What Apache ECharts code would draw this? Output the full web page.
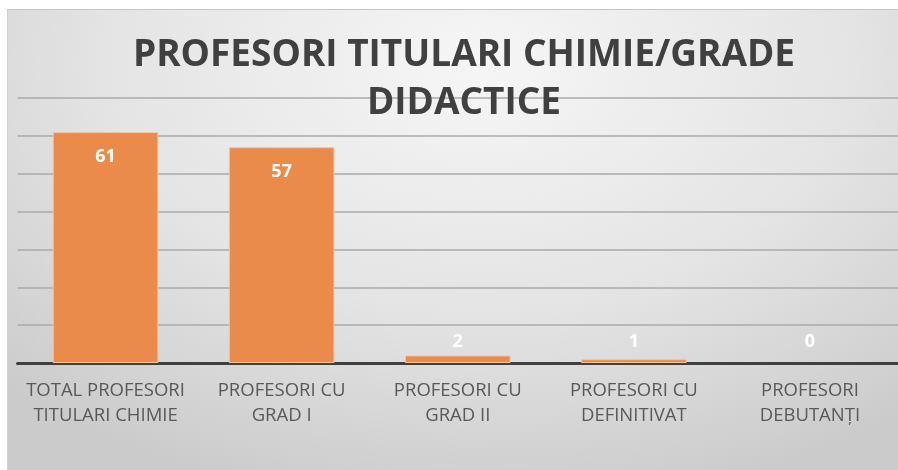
<!DOCTYPE html>
<html>
<head>
<meta charset="utf-8">
<script src="https://cdn.jsdelivr.net/npm/echarts@6/dist/echarts.min.js"></script>
<style>
html, body { margin: 0; padding: 0; background: #fff; }
#frame {
  position: absolute; left: 7px; top: 9px; width: 905px; height: 470px;
  border-top: 1px solid #c4c4c4; border-left: 1px solid #d0d0d0;
  background: radial-gradient(ellipse 75% 95% at 52% 12%, #f6f6f6 0%, #e4e4e4 55%, #cbcbcb 100%);
}
#main { position: absolute; left: 0; top: 0; width: 898px; height: 470px; }
</style>
</head>
<body>
<div id="frame"></div>
<div id="main"></div>
<script>
// categories and values
const categories = [
  'TOTAL PROFESORI\nTITULARI CHIMIE',
  'PROFESORI CU\nGRAD I',
  'PROFESORI CU\nGRAD II',
  'PROFESORI CU\nDEFINITIVAT',
  'PROFESORI\nDEBUTANȚI'
]
const values = [61, 57, 2, 1, 0]
const titleText = 'PROFESORI TITULARI CHIMIE/GRADE\nDIDACTICE'

let myChart = echarts.init(document.getElementById('main'), null, { renderer: 'canvas' })

// big bars get the label inside, small ones get it above the axis
let barData = values.map(v => {
  let item = { value: v }
  if (v > 10) {
    item.label = { position: 'insideTop', distance: 16 }
  } else {
    item.label = { position: 'insideBottom', distance: 12 }
  }
  if (v === 0) {
    item.itemStyle = { borderWidth: 0 }
  }
  return item
})

let option = {
  backgroundColor: 'transparent',
  title: {
    text: titleText,
    left: 459,
    textAlign: 'center',
    top: 26,
    textStyle: {
      fontFamily: 'Open Sans',
      fontWeight: 'bold',
      fontSize: 37,
      lineHeight: 48,
      color: '#404040'
    }
  },
  grid: {
    left: 17.5,
    right: -14,
    top: 98,
    bottom: 107
  },
  xAxis: {
    type: 'category',
    data: categories,
    axisTick: { show: false },
    axisLine: { lineStyle: { color: '#404040', width: 3 } },
    axisLabel: {
      fontFamily: 'Open Sans',
      fontSize: 18.5,
      lineHeight: 25,
      color: '#595959',
      margin: 15,
      interval: 0
    }
  },
  yAxis: {
    type: 'value',
    min: 0,
    max: 70,
    interval: 10,
    axisLabel: { show: false },
    axisLine: { show: false },
    axisTick: { show: false },
    splitLine: { lineStyle: { color: '#aaaaaa', width: 1.5 } }
  },
  series: [
    {
      type: 'bar',
      barWidth: '60%',
      data: barData,
      itemStyle: {
        color: '#ea8a4b',
        borderColor: '#f6c49d',
        borderWidth: 1
      },
      label: {
        show: true,
        color: '#ffffff',
        fontFamily: 'Open Sans',
        fontWeight: 'bold',
        fontSize: 18
      }
    }
  ]
}
myChart.setOption(option, true)
</script>
</body>
</html>
